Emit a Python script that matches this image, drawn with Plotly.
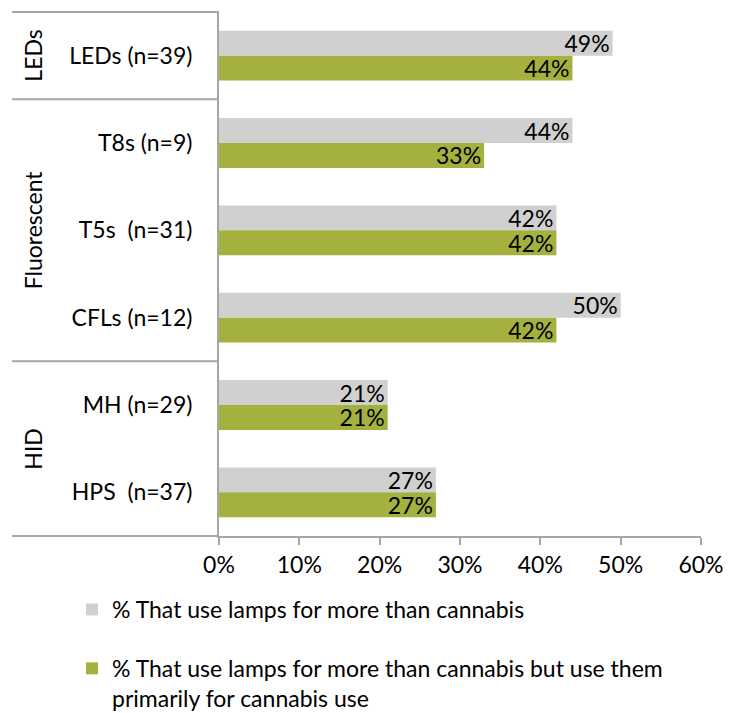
import plotly.graph_objects as go

categories = ["LEDs (n=39)", "T8s (n=9)", "T5s\u00a0 (n=31)", "CFLs (n=12)", "MH (n=29)", "HPS\u00a0 (n=37)"]
more_than_cannabis = [49, 44, 42, 50, 21, 27]
primarily_cannabis = [44, 33, 42, 42, 21, 27]
series_names = ["% That use lamps for more than cannabis",
                "% That use lamps for more than cannabis but use them<br>primarily for cannabis use"]
groups = ["LEDs", "Fluorescent", "HID"]
group_sizes = [1, 3, 2]
x_ticks = [0, 10, 20, 30, 40, 50, 60]

FONT = "Lato"
FS = 23
GRAY = "#d0d0d0"
GREEN = "#a4b13e"
LINE = "#a6a6a6"

# page has an 8px body margin; figure drawn inside it
OFF = 8
W, H = 734 - 2 * OFF, 713 - OFF
L, T = 219 - OFF, 12 - OFF
R = W - (701 - OFF)
B = H - (536 - OFF)
pw = W - L - R
ph = H - T - B

fig = go.Figure()
for name, vals, col, grp in [(series_names[0], more_than_cannabis, GRAY, "a"),
                             (series_names[1], primarily_cannabis, GREEN, "b")]:
    fig.add_trace(go.Bar(
        y=categories, x=vals, orientation="h", name=name,
        marker=dict(color=col, line=dict(width=0)),
        text=[f"{v}%" for v in vals], textposition="inside",
        insidetextanchor="end", textangle=0,
        textfont=dict(family=FONT, size=FS, color="black"),
        legendgroup=grp,
    ))

shapes = []
x_left = (12 - 219) / pw
n = len(categories)
bounds = [0]
for s in group_sizes:
    bounds.append(bounds[-1] + s)
for b in bounds:
    yy = 1 - b / n
    shapes.append(dict(type="line", xref="paper", yref="paper", x0=x_left, x1=0,
                       y0=yy, y1=yy, line=dict(color=LINE, width=2)))

annotations = []
for g, s0, s in zip(groups, bounds[:-1], group_sizes):
    yc = 1 - (s0 + s / 2) / n
    annotations.append(dict(text=g, xref="paper", yref="paper", x=(33 - 219) / pw, y=yc,
                            textangle=-90, showarrow=False,
                            font=dict(family=FONT, size=FS, color="black"),
                            xanchor="center", yanchor="middle"))

fig.update_layout(
    width=W, height=H,
    margin=dict(l=L, r=R, t=T, b=B, autoexpand=False),
    paper_bgcolor="white", plot_bgcolor="white",
    barmode="group", bargap=0.43, bargroupgap=0,
    font=dict(family=FONT, size=FS, color="black"),
    uniformtext=dict(minsize=FS, mode="show"),
    xaxis=dict(range=[0, 60], tickvals=x_ticks, ticktext=[f"{t}%" for t in x_ticks],
               showgrid=False, zeroline=False, showline=True, linecolor=LINE, linewidth=2,
               ticks="outside", ticklen=7, tickwidth=2, tickcolor=LINE,
               tickfont=dict(family=FONT, size=FS, color="black"), fixedrange=True),
    yaxis=dict(autorange="reversed", showgrid=False, zeroline=False, showline=True,
               linecolor=LINE, linewidth=2, ticks="", ticklabelstandoff=20,
               tickfont=dict(family=FONT, size=FS, color="black")),
    legend=dict(orientation="v", x=(72 - 219) / pw, xanchor="left",
                y=-(588 - 536) / ph, yanchor="top",
                traceorder="grouped", tracegroupgap=26, valign="top",
                font=dict(family=FONT, size=FS, color="black"),
                bgcolor="rgba(0,0,0,0)"),
    showlegend=True,
    shapes=shapes, annotations=annotations,
)

fig.write_html("out.html")
